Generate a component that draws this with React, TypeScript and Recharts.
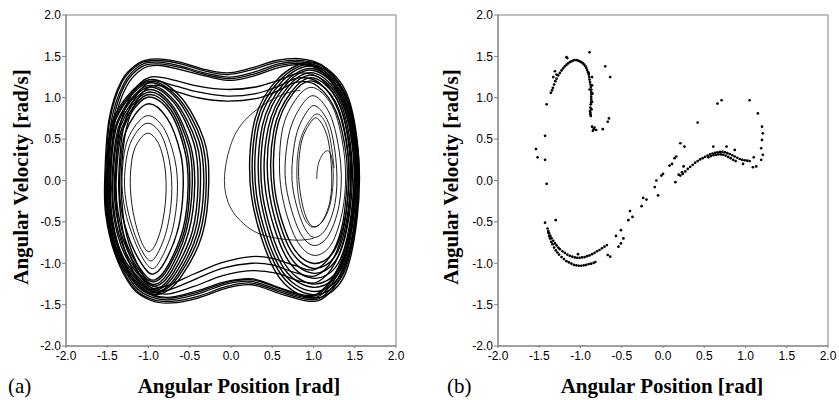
import { LineChart, Line, ScatterChart, Scatter, XAxis, YAxis, ReferenceArea } from "recharts";

// ---- axis ticks ----
const TICKS = [-2, -1.5, -1, -0.5, 0, 0.5, 1, 1.5, 2];

// ---- (a) phase portrait: orbits, [x, y] pairs ----
const leftInner: number[][][] = [
  [[-1.02, 0.57], [-0.88, 0.45], [-0.8, 0.15], [-0.79, -0.2], [-0.84, -0.55], [-0.93, -0.8], [-1.02, -0.85], [-1.12, -0.65], [-1.2, -0.3], [-1.22, 0.05], [-1.17, 0.38]],
  [[-1.03, 0.69], [-0.85, 0.56], [-0.74, 0.2], [-0.72, -0.2], [-0.78, -0.6], [-0.9, -0.9], [-1.0, -0.96], [-1.14, -0.72], [-1.26, -0.32], [-1.29, 0.05], [-1.22, 0.45]],
  [[-1.03, 0.78], [-0.82, 0.64], [-0.68, 0.25], [-0.65, -0.15], [-0.71, -0.6], [-0.85, -0.95], [-0.97, -1.06], [-1.13, -0.82], [-1.28, -0.38], [-1.32, 0.05], [-1.25, 0.5]],
];
const leftRing: number[][][] = [
  [[-1.03, 0.92], [-0.78, 0.76], [-0.61, 0.32], [-0.58, -0.1], [-0.64, -0.58], [-0.8, -0.98], [-0.94, -1.13], [-1.06, -1.04], [-1.22, -0.74], [-1.33, -0.35], [-1.35, 0.05], [-1.28, 0.58]],
  [[-1.03, 1.0], [-0.75, 0.84], [-0.56, 0.36], [-0.52, -0.08], [-0.58, -0.58], [-0.76, -1.02], [-0.92, -1.2], [-1.06, -1.12], [-1.25, -0.8], [-1.37, -0.38], [-1.39, 0.05], [-1.31, 0.62]],
  [[-1.03, 1.03], [-0.74, 0.87], [-0.54, 0.38], [-0.5, -0.07], [-0.56, -0.59], [-0.75, -1.04], [-0.91, -1.22], [-1.06, -1.15], [-1.26, -0.83], [-1.39, -0.4], [-1.41, 0.05], [-1.32, 0.64]],
  [[-1.03, 1.06], [-0.73, 0.9], [-0.51, 0.4], [-0.47, -0.06], [-0.54, -0.6], [-0.73, -1.06], [-0.9, -1.25], [-1.06, -1.18], [-1.28, -0.86], [-1.41, -0.42], [-1.43, 0.05], [-1.34, 0.66]],
  [[-1.03, 1.09], [-0.72, 0.92], [-0.49, 0.42], [-0.44, -0.06], [-0.51, -0.61], [-0.71, -1.08], [-0.89, -1.27], [-1.06, -1.2], [-1.29, -0.89], [-1.42, -0.44], [-1.44, 0.05], [-1.35, 0.68]],
  [[-1.03, 1.12], [-0.7, 0.95], [-0.45, 0.45], [-0.4, -0.05], [-0.47, -0.62], [-0.69, -1.1], [-0.88, -1.3], [-1.06, -1.23], [-1.31, -0.92], [-1.44, -0.46], [-1.46, 0.05], [-1.37, 0.7]],
  [[-1.03, 1.14], [-0.69, 0.97], [-0.42, 0.46], [-0.37, -0.05], [-0.44, -0.63], [-0.67, -1.12], [-0.88, -1.32], [-1.06, -1.25], [-1.32, -0.94], [-1.45, -0.47], [-1.47, 0.05], [-1.38, 0.71]],
  [[-1.03, 1.17], [-0.67, 1.0], [-0.39, 0.48], [-0.33, -0.04], [-0.41, -0.64], [-0.65, -1.14], [-0.87, -1.34], [-1.06, -1.27], [-1.33, -0.96], [-1.47, -0.48], [-1.49, 0.05], [-1.4, 0.73]],
  [[-1.03, 1.19], [-0.65, 1.01], [-0.36, 0.49], [-0.3, -0.04], [-0.38, -0.65], [-0.63, -1.15], [-0.86, -1.35], [-1.06, -1.29], [-1.34, -0.98], [-1.48, -0.49], [-1.5, 0.05], [-1.41, 0.74]],
  [[-1.02, 1.21], [-0.63, 1.03], [-0.33, 0.5], [-0.27, -0.03], [-0.35, -0.66], [-0.61, -1.17], [-0.85, -1.37], [-1.06, -1.31], [-1.35, -1.0], [-1.49, -0.5], [-1.51, 0.05], [-1.42, 0.76]],
];

const rightInner: number[][][] = [
  [[1.05, 0.75], [1.17, 0.52], [1.22, 0.1], [1.2, -0.25], [1.1, -0.5], [0.98, -0.55], [0.88, -0.35], [0.82, 0.05], [0.85, 0.45], [0.95, 0.68]],
  [[1.03, 0.9], [1.2, 0.65], [1.28, 0.15], [1.26, -0.28], [1.14, -0.6], [0.98, -0.68], [0.84, -0.45], [0.74, 0.0], [0.78, 0.5], [0.9, 0.8]],
  [[1.02, 1.02], [1.22, 0.75], [1.33, 0.2], [1.31, -0.3], [1.17, -0.68], [0.98, -0.78], [0.8, -0.55], [0.66, 0.0], [0.7, 0.55], [0.85, 0.9]],
  [[1.01, 1.12], [1.25, 0.85], [1.38, 0.25], [1.36, -0.32], [1.21, -0.78], [0.98, -0.9], [0.76, -0.65], [0.6, -0.05], [0.62, 0.6], [0.8, 1.0]],
];
const rightRing: number[][][] = [
  [[1.0, 1.2], [1.28, 0.92], [1.42, 0.3], [1.4, -0.35], [1.25, -0.85], [0.99, -1.0], [0.72, -0.75], [0.53, -0.1], [0.55, 0.6], [0.75, 1.05]],
  [[1.0, 1.24], [1.3, 0.95], [1.44, 0.31], [1.42, -0.36], [1.27, -0.9], [0.99, -1.06], [0.7, -0.8], [0.5, -0.11], [0.52, 0.61], [0.73, 1.07]],
  [[1.0, 1.27], [1.31, 0.98], [1.46, 0.32], [1.44, -0.38], [1.28, -0.95], [0.99, -1.12], [0.68, -0.86], [0.46, -0.12], [0.48, 0.62], [0.7, 1.1]],
  [[1.0, 1.3], [1.32, 1.0], [1.48, 0.33], [1.46, -0.39], [1.3, -1.0], [0.99, -1.18], [0.66, -0.91], [0.42, -0.13], [0.45, 0.63], [0.68, 1.12]],
  [[1.0, 1.33], [1.34, 1.02], [1.5, 0.34], [1.48, -0.4], [1.32, -1.05], [0.99, -1.25], [0.63, -0.97], [0.38, -0.15], [0.41, 0.65], [0.66, 1.15]],
  [[1.0, 1.35], [1.35, 1.04], [1.51, 0.35], [1.49, -0.41], [1.33, -1.08], [0.99, -1.29], [0.61, -1.01], [0.35, -0.16], [0.38, 0.66], [0.64, 1.17]],
  [[1.0, 1.38], [1.36, 1.06], [1.52, 0.36], [1.51, -0.42], [1.34, -1.12], [0.99, -1.34], [0.59, -1.05], [0.31, -0.18], [0.34, 0.68], [0.62, 1.2]],
  [[1.0, 1.4], [1.37, 1.08], [1.53, 0.37], [1.52, -0.43], [1.35, -1.15], [0.99, -1.38], [0.57, -1.08], [0.28, -0.19], [0.31, 0.69], [0.6, 1.22]],
  [[1.0, 1.42], [1.38, 1.1], [1.54, 0.38], [1.53, -0.44], [1.36, -1.18], [0.99, -1.42], [0.55, -1.12], [0.25, -0.2], [0.28, 0.7], [0.58, 1.24]],
];

const crossingLoops: number[][][] = [
  [[-1.53, 0.05], [-1.48, 0.73], [-1.33, 1.2], [-1.12, 1.42], [-0.9, 1.47], [-0.62, 1.43], [-0.35, 1.35], [-0.05, 1.3], [0.25, 1.36], [0.55, 1.45], [0.85, 1.47], [1.15, 1.36], [1.42, 0.96], [1.54, 0.35], [1.54, -0.1], [1.48, -0.68], [1.35, -1.12], [1.15, -1.4], [0.95, -1.46], [0.6, -1.37], [0.25, -1.26], [-0.05, -1.3], [-0.4, -1.42], [-0.72, -1.48], [-0.97, -1.45], [-1.2, -1.29], [-1.41, -0.88], [-1.52, -0.4]],
  [[-1.52, 0.04], [-1.47, 0.72], [-1.32, 1.19], [-1.11, 1.41], [-0.89, 1.45], [-0.61, 1.41], [-0.34, 1.33], [-0.04, 1.28], [0.26, 1.34], [0.56, 1.43], [0.85, 1.45], [1.15, 1.35], [1.41, 0.95], [1.53, 0.34], [1.53, -0.1], [1.47, -0.67], [1.34, -1.1], [1.14, -1.38], [0.94, -1.44], [0.6, -1.35], [0.25, -1.24], [-0.05, -1.28], [-0.4, -1.4], [-0.72, -1.46], [-0.97, -1.43], [-1.19, -1.28], [-1.4, -0.87], [-1.51, -0.4]],
  [[-1.5, 0.05], [-1.45, 0.72], [-1.3, 1.17], [-1.1, 1.39], [-0.88, 1.43], [-0.6, 1.38], [-0.32, 1.3], [-0.02, 1.25], [0.28, 1.31], [0.58, 1.41], [0.86, 1.43], [1.14, 1.32], [1.39, 0.93], [1.51, 0.34], [1.51, -0.1], [1.45, -0.66], [1.32, -1.08], [1.12, -1.36], [0.93, -1.42], [0.6, -1.33], [0.25, -1.22], [-0.05, -1.25], [-0.4, -1.37], [-0.72, -1.44], [-0.96, -1.41], [-1.18, -1.26], [-1.38, -0.86], [-1.49, -0.4]],
  [[-1.48, 0.05], [-1.43, 0.71], [-1.29, 1.15], [-1.09, 1.37], [-0.87, 1.41], [-0.59, 1.36], [-0.31, 1.28], [-0.01, 1.23], [0.29, 1.29], [0.59, 1.39], [0.87, 1.41], [1.13, 1.3], [1.38, 0.91], [1.5, 0.33], [1.5, -0.1], [1.44, -0.65], [1.31, -1.06], [1.11, -1.34], [0.92, -1.4], [0.6, -1.31], [0.26, -1.2], [-0.05, -1.23], [-0.4, -1.35], [-0.72, -1.42], [-0.95, -1.39], [-1.17, -1.24], [-1.36, -0.85], [-1.47, -0.4]],
  [[-1.46, 0.05], [-1.41, 0.7], [-1.27, 1.13], [-1.07, 1.35], [-0.86, 1.39], [-0.58, 1.33], [-0.3, 1.26], [0.0, 1.21], [0.3, 1.27], [0.6, 1.37], [0.88, 1.4], [1.13, 1.29], [1.37, 0.9], [1.49, 0.33], [1.49, -0.1], [1.43, -0.64], [1.3, -1.05], [1.1, -1.33], [0.92, -1.39], [0.6, -1.3], [0.27, -1.19], [-0.05, -1.22], [-0.4, -1.33], [-0.73, -1.41], [-0.95, -1.38], [-1.16, -1.23], [-1.35, -0.84], [-1.45, -0.4]],
  [[-1.4, 0.05], [-1.34, 0.68], [-1.18, 1.08], [-0.98, 1.25], [-0.72, 1.22], [-0.4, 1.14], [-0.05, 1.1], [0.3, 1.13], [0.6, 1.22], [0.85, 1.3], [1.1, 1.22], [1.33, 0.88], [1.45, 0.32], [1.45, -0.12], [1.39, -0.62], [1.26, -1.0], [1.06, -1.22], [0.85, -1.22], [0.55, -1.12], [0.25, -1.09], [-0.1, -1.15], [-0.45, -1.28], [-0.75, -1.37], [-0.95, -1.34], [-1.14, -1.18], [-1.3, -0.8], [-1.38, -0.4]],
  [[-1.36, 0.05], [-1.3, 0.65], [-1.14, 1.04], [-0.95, 1.2], [-0.7, 1.15], [-0.4, 1.07], [-0.05, 1.02], [0.3, 1.05], [0.58, 1.14], [0.82, 1.24], [1.07, 1.18], [1.3, 0.85], [1.42, 0.3], [1.42, -0.12], [1.36, -0.6], [1.23, -0.96], [1.03, -1.15], [0.8, -1.12], [0.5, -1.02], [0.25, -1.0], [-0.1, -1.06], [-0.45, -1.2], [-0.78, -1.33], [-0.96, -1.3], [-1.12, -1.12], [-1.27, -0.78], [-1.34, -0.4]],
  [[-1.33, 0.05], [-1.27, 0.62], [-1.12, 1.0], [-0.93, 1.15], [-0.68, 1.08], [-0.4, 1.0], [-0.05, 0.96], [0.3, 0.99], [0.56, 1.08], [0.8, 1.19], [1.05, 1.14], [1.28, 0.82], [1.4, 0.28], [1.4, -0.12], [1.34, -0.58], [1.2, -0.92], [1.0, -1.08], [0.78, -1.03], [0.5, -0.94], [0.25, -0.92], [-0.1, -0.99], [-0.45, -1.13], [-0.8, -1.28], [-0.97, -1.26], [-1.1, -1.08], [-1.24, -0.75], [-1.31, -0.4]],
];

const openPaths: number[][][] = [
  [[1.0, -0.7], [0.76, -0.72], [0.39, -0.66], [0.15, -0.52], [-0.01, -0.32], [-0.08, 0.0], [-0.01, 0.41], [0.19, 0.75], [0.56, 1.01], [0.84, 1.09]],
  [[1.04, 0.02], [1.05, 0.16], [1.1, 0.3], [1.17, 0.36], [1.22, 0.28], [1.24, 0.05], [1.21, -0.25], [1.12, -0.48], [0.98, -0.56], [0.86, -0.38], [0.8, 0.0], [0.83, 0.45], [0.95, 0.72], [1.06, 0.8], [1.18, 0.6], [1.25, 0.15]],
];

// ---- (b) Poincaré section points ----
const topArc = [
  [-1.36, 1.06], [-1.345, 1.09], [-1.335, 1.12], [-1.32, 1.16], [-1.305, 1.2], [-1.29, 1.23], [-1.27, 1.27], [-1.25, 1.3], [-1.23, 1.33], [-1.21, 1.355], [-1.19, 1.38], [-1.17, 1.4], [-1.15, 1.415], [-1.13, 1.43], [-1.11, 1.44], [-1.09, 1.45], [-1.07, 1.455], [-1.05, 1.455], [-1.03, 1.45], [-1.01, 1.44], [-0.99, 1.43], [-0.97, 1.415], [-0.955, 1.4], [-0.94, 1.38], [-0.93, 1.36], [-0.92, 1.335], [-0.91, 1.31], [-0.9, 1.28], [-0.895, 1.25], [-0.89, 1.22], [-0.885, 1.19], [-0.88, 1.16], [-0.875, 1.13], [-0.87, 1.1], [-0.87, 1.07], [-0.87, 1.04], [-0.87, 1.01], [-0.87, 0.98], [-0.87, 0.95], [-0.875, 0.92], [-0.88, 0.88], [-0.885, 0.84], [-0.88, 0.8], [-0.875, 0.78],
  [-0.86, 1.25], [-0.86, 1.15], [-0.855, 1.05], [-0.86, 0.95], [-0.865, 0.86], [-0.9, 1.3], [-0.89, 1.1], [-0.88, 0.82],
];
const bottomUpper = [
  [-1.4, -0.58], [-1.39, -0.61], [-1.38, -0.64], [-1.365, -0.67], [-1.35, -0.7], [-1.33, -0.73], [-1.31, -0.76], [-1.29, -0.785], [-1.27, -0.81], [-1.25, -0.83], [-1.22, -0.855], [-1.19, -0.875], [-1.16, -0.895], [-1.13, -0.91], [-1.1, -0.92], [-1.07, -0.93], [-1.04, -0.935], [-1.01, -0.935], [-0.98, -0.93], [-0.95, -0.925], [-0.92, -0.915], [-0.89, -0.905], [-0.86, -0.89], [-0.83, -0.875], [-0.8, -0.855], [-0.77, -0.84], [-0.74, -0.82], [-0.71, -0.8], [-0.68, -0.78],
];
const bottomLower = [
  [-1.39, -0.63], [-1.38, -0.67], [-1.37, -0.7], [-1.355, -0.74], [-1.34, -0.77], [-1.32, -0.81], [-1.3, -0.845], [-1.28, -0.87], [-1.26, -0.895], [-1.23, -0.925], [-1.2, -0.95], [-1.17, -0.975], [-1.14, -0.99], [-1.11, -1.005], [-1.08, -1.02], [-1.05, -1.025], [-1.02, -1.03], [-0.99, -1.03], [-0.96, -1.025], [-0.93, -1.02], [-0.9, -1.01], [-0.87, -1.005], [-0.84, -0.995], [-0.82, -0.985],
];
const rightUpper = [
  [0.21, 0.06], [0.24, 0.08], [0.27, 0.11], [0.3, 0.14], [0.33, 0.165], [0.36, 0.19], [0.39, 0.215], [0.42, 0.235], [0.45, 0.255], [0.48, 0.27], [0.51, 0.285], [0.54, 0.3], [0.57, 0.315], [0.6, 0.325], [0.63, 0.335], [0.66, 0.34], [0.69, 0.345], [0.72, 0.345], [0.75, 0.34], [0.78, 0.33], [0.81, 0.32], [0.84, 0.305], [0.87, 0.29], [0.9, 0.275], [0.93, 0.26], [0.96, 0.25], [0.99, 0.245], [1.02, 0.24], [1.05, 0.235],
];
const rightLower = [
  [0.55, 0.28], [0.58, 0.295], [0.61, 0.305], [0.64, 0.31], [0.67, 0.315], [0.7, 0.315], [0.73, 0.31], [0.76, 0.3], [0.79, 0.285], [0.82, 0.27], [0.85, 0.25], [0.88, 0.235],
];
const strayPoints = [
  [-1.17, 1.49], [-1.16, 1.48], [-0.89, 1.55], [-0.7, 1.38], [-0.64, 1.25], [-0.655, 0.75], [-0.67, 0.71], [-0.73, 0.62], [-0.81, 0.61], [-0.86, 0.65], [-0.84, 0.62], [-0.85, 0.6], [-0.83, 0.64],
  [-1.31, 1.32], [-1.33, 1.25], [-1.29, 1.28], [-1.41, 0.92], [-1.43, 0.54], [-1.54, 0.38], [-1.52, 0.28], [-1.43, 0.25], [-1.41, -0.04],
  [-1.43, -0.51], [-1.3, -0.48], [-1.03, -0.89], [-0.67, -0.9], [-0.64, -0.92],
  [-0.54, -0.8], [-0.51, -0.76], [-0.48, -0.7], [-0.51, -0.6], [-0.57, -0.67], [-0.42, -0.48], [-0.4, -0.37], [-0.37, -0.44], [-0.26, -0.31], [-0.24, -0.21], [-0.2, -0.23],
  [-0.1, -0.08], [-0.08, 0.0], [-0.06, -0.18], [-0.02, 0.06], [0.0, 0.08], [0.08, 0.18], [0.11, 0.2], [0.14, 0.27], [0.16, 0.29], [0.15, -0.02], [0.21, 0.45], [0.26, 0.41], [0.25, 0.17],
  [0.42, 0.7], [0.66, 0.93], [0.71, 0.97], [1.05, 0.97], [1.15, 0.81], [1.2, 0.65], [1.21, 0.57], [1.2, 0.49], [1.19, 0.39], [1.21, 0.31], [1.19, 0.25],
  [0.61, 0.41], [0.77, 0.41], [0.87, 0.37], [0.97, 0.2], [1.09, 0.16], [1.13, 0.17], [1.1, 0.28], [0.23, 0.1], [0.19, 0.07],
];

const toPts = (a: number[][]) => a.map(([x, y]) => ({ x, y }));

// closed Catmull-Rom curve so each loop passes through its points
const closedCatmull = (context: any) => {
  let p: number[][] = [];
  return {
    areaStart() {},
    areaEnd() {},
    lineStart() {
      p = [];
    },
    point(x: number, y: number) {
      p.push([+x, +y]);
    },
    lineEnd() {
      const n = p.length;
      if (!n) return;
      context.moveTo(p[0][0], p[0][1]);
      for (let i = 0; i < n; i++) {
        const a = p[(i - 1 + n) % n], b = p[i], c = p[(i + 1) % n], d = p[(i + 2) % n];
        context.bezierCurveTo(
          b[0] + (c[0] - a[0]) / 6, b[1] + (c[1] - a[1]) / 6,
          c[0] - (d[0] - b[0]) / 6, c[1] - (d[1] - b[1]) / 6,
          c[0], c[1]
        );
      }
      context.closePath();
    },
  };
};

const AXIS = "#808080";
const tickStyle = { fill: "#000", fontSize: 12, fontFamily: "'Liberation Sans', Arial, sans-serif" };
const fmt = (v: number) => v.toFixed(1);
const titleFont = "'Liberation Serif', 'Times New Roman', serif";

const Dot = (props: any) => <circle cx={props.cx} cy={props.cy} r={1.35} fill="#000" />;

function Axes() {
  return [
    <XAxis key="x" dataKey="x" type="number" domain={[-2, 2]} ticks={TICKS} tickFormatter={fmt} allowDataOverflow
      stroke={AXIS} tick={tickStyle} tickSize={2} tickMargin={3} height={30} interval={0} />,
    <YAxis key="y" dataKey="y" type="number" domain={[-2, 2]} ticks={TICKS} tickFormatter={fmt} allowDataOverflow
      stroke={AXIS} tick={tickStyle} tickSize={4} tickMargin={1} width={40} interval={0} />,
    <ReferenceArea key="frame" x1={-2} x2={2} y1={-2} y2={2} fill="none" fillOpacity={0} stroke={AXIS} strokeOpacity={1} />,
  ];
}

const orbit = (l: number[][], key: string, width: number) => (
  <Line key={key} data={toPts(l)} dataKey="y" type={closedCatmull as any} stroke="#000" strokeWidth={width}
    dot={false} activeDot={false} isAnimationActive={false} legendType="none" />
);

export default function App() {
  const scatterSets = [topArc, bottomUpper, bottomLower, rightUpper, rightLower, strayPoints];
  return (
    <div style={{ position: "absolute", left: 0, top: 0, width: 839, height: 400, background: "#fff" }}>
      <div style={{ position: "absolute", left: 0, top: 0 }}>
        <LineChart width={420} height={400} margin={{ top: 15, right: 24, bottom: 24, left: 26 }}>
          {Axes()}
          {leftInner.map((l, i) => orbit(l, "li" + i, 0.9))}
          {rightInner.map((l, i) => orbit(l, "ri" + i, 0.9))}
          {leftRing.map((l, i) => orbit(l, "lr" + i, 1.4))}
          {rightRing.map((l, i) => orbit(l, "rr" + i, 1.4))}
          {crossingLoops.map((l, i) => orbit(l, "c" + i, 1.3))}
          {openPaths.map((l, i) => (
            <Line key={"o" + i} data={toPts(l)} dataKey="y" type="natural" stroke="#000" strokeWidth={0.8}
              dot={false} activeDot={false} isAnimationActive={false} legendType="none" />
          ))}
        </LineChart>
      </div>
      <div style={{ position: "absolute", left: 420, top: 0 }}>
        <ScatterChart width={419} height={400} margin={{ top: 15, right: 11, bottom: 24, left: 38 }}>
          {Axes()}
          {scatterSets.map((s, i) => (
            <Scatter key={"s" + i} data={toPts(s)} shape={<Dot />} isAnimationActive={false} legendType="none" />
          ))}
        </ScatterChart>
      </div>
      <svg width={839} height={400} style={{ position: "absolute", left: 0, top: 0, pointerEvents: "none" }}>
        <g fontFamily={titleFont} fontSize={21} fill="#000">
          <text transform="translate(28,177) rotate(-90)" textAnchor="middle" fontWeight="bold">Angular Velocity [rad/s]</text>
          <text transform="translate(458,177) rotate(-90)" textAnchor="middle" fontWeight="bold">Angular Velocity [rad/s]</text>
          <text x={239} y={393} textAnchor="middle" fontWeight="bold">Angular Position [rad]</text>
          <text x={662} y={393} textAnchor="middle" fontWeight="bold">Angular Position [rad]</text>
          <text x={8} y={393}>(a)</text>
          <text x={447} y={393}>(b)</text>
        </g>
      </svg>
    </div>
  );
}
